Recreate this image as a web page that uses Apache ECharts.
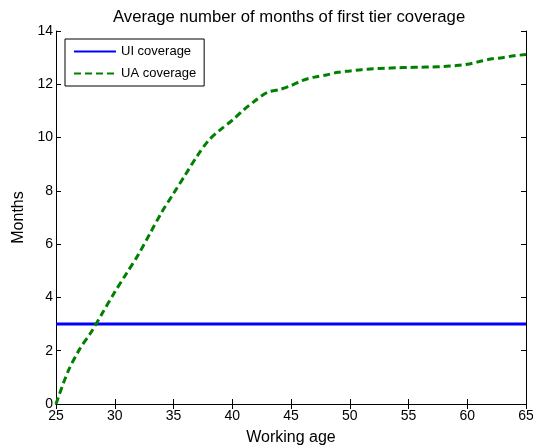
<!DOCTYPE html>
<html><head><meta charset="utf-8">
<script src="https://cdn.jsdelivr.net/npm/echarts@6/dist/echarts.min.js"></script>
<style>html,body{margin:0;padding:0;background:#fff}#c{width:533px;height:447px}</style>
</head><body><div id="c"></div>
<script>
const ages = [25,26,27,28,29,30,31,32,33,34,35,36,37,38,39,40,41,42,43,44,45,46,47,48,49,50,51,52,53,54,55,56,57,58,59,60,61,62,63,64,65];
const uaCoverage = [0,1.2,2.05,2.7,3.45,4.2,4.9,5.6,6.4,7.2,7.9,8.6,9.3,9.9,10.3,10.65,11.05,11.4,11.7,11.8,11.95,12.15,12.27,12.35,12.45,12.5,12.55,12.58,12.6,12.62,12.63,12.64,12.65,12.67,12.7,12.75,12.85,12.95,13.0,13.07,13.12];
const uiCoverage = ages.map(() => 3);
const xTicks = [25,30,35,40,45,50,55,60,65];
const yTicks = [0,2,4,6,8,10,12,14];

const F = 'Liberation Sans, Arial, sans-serif';
const chart = echarts.init(document.getElementById('c'));
const axBase = {
  type:'value',
  axisLine:{show:true,lineStyle:{color:'#000',width:1}},
  axisTick:{show:true,inside:true,length:5,lineStyle:{color:'#000'}},
  splitLine:{show:false}
};
chart.setOption({
  animation:false,
  backgroundColor:'#fff',
  title:{text:'Average number of months of first tier coverage',left:108,top:4,
    textStyle:{fontFamily:F,fontSize:16.7,fontWeight:'normal',color:'#000'}},
  legend:{
    left:65, top:39, orient:'vertical',
    data:['UI coverage','UA coverage'],
    itemWidth:42, itemHeight:10, itemGap:9,
    padding:[6,8,6,8],
    borderColor:'#000', borderWidth:1, backgroundColor:'#fff',
    itemStyle:{opacity:0},
    textStyle:{fontFamily:F,fontSize:13,color:'#000'}
  },
  grid:{left:56,right:7,top:31,bottom:43,containLabel:false,outerBoundsMode:'none'},
  xAxis:[
    Object.assign({},axBase,{min:25,max:65,interval:5,position:'bottom',
      name:'Working age',nameLocation:'middle',nameGap:26,
      nameTextStyle:{fontFamily:F,fontSize:16,color:'#000'},
      axisLabel:{fontFamily:F,fontSize:14,color:'#000',margin:5}}),
    Object.assign({},axBase,{min:25,max:65,interval:5,position:'top',axisLabel:{show:false}})
  ],
  yAxis:[
    Object.assign({},axBase,{min:0,max:14,interval:2,position:'left',
      name:'Months',nameLocation:'middle',nameGap:25,
      nameTextStyle:{fontFamily:F,fontSize:16,color:'#000'},
      axisLabel:{fontFamily:F,fontSize:14,color:'#000',margin:3}}),
    Object.assign({},axBase,{min:0,max:14,interval:2,position:'right',axisLabel:{show:false}})
  ],
  series:[
    {name:'UI coverage',type:'line',symbol:'none',data:ages.map((a,i)=>[a,uiCoverage[i]]),
      lineStyle:{color:'#0000ff',width:3},itemStyle:{color:'#0000ff'}},
    {name:'UA coverage',type:'line',symbol:'none',smooth:0.3,data:ages.map((a,i)=>[a,uaCoverage[i]]),
      lineStyle:{color:'#008000',width:3,type:[7,4]},itemStyle:{color:'#008000'}}
  ]
});
</script></body></html>
